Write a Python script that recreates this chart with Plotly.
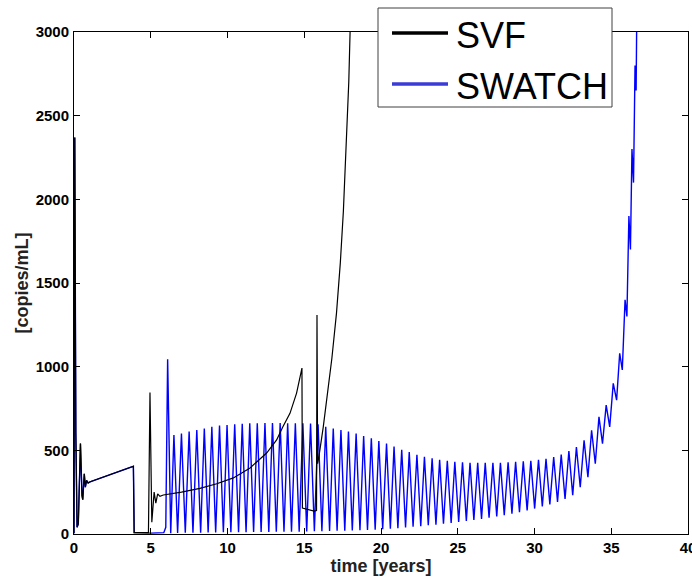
import plotly.graph_objects as go

# ---- shared primary-infection segment (both strategies identical) ----
init_t = [0.0, 0.05, 0.12, 0.20, 0.28, 0.42, 0.52, 0.57, 0.67, 0.74, 0.82, 0.92, 1.05, 3.87, 3.92]
init_v = [5, 2370, 600, 40, 60, 540, 230, 205, 360, 280, 320, 305, 312, 405, 8]

# ---- SVF (black) after 3.92 years ----
svf_t = [4.85, 4.95, 5.07, 5.22, 5.33, 5.45, 5.60, 5.82, 7.0, 8.2, 9.3, 10.38, 11.47, 12.55,
         13.2, 13.6, 14.07, 14.5, 14.85, 14.88, 15.64, 15.80, 15.83, 15.87, 15.95, 16.24,
         16.5, 16.8, 17.1, 17.35, 17.55, 17.75, 17.9, 18.0, 18.1]
svf_v = [8, 845, 70, 250, 185, 240, 225, 233, 250, 273, 300, 335, 395, 484,
         562, 640, 721, 842, 992, 155, 137, 140, 1309, 420, 460, 640,
         820, 1050, 1320, 1620, 1930, 2330, 2700, 3050, 3400]

# ---- SWATCH (blue) after 3.92 years ----
sw_pre_t = [5.0, 5.85, 5.98]
sw_pre_v = [5, 8, 40]

sw_peak_t = [6.10, 6.51, 7.00, 7.50, 8.00, 8.49, 8.98, 9.48, 9.97, 10.47, 10.96, 11.45, 11.94,
             12.44, 12.93, 13.43, 13.92, 14.42, 14.91, 15.41, 15.90, 16.40, 16.89, 17.39, 17.88,
             18.38, 18.87, 19.37, 19.86, 20.36, 20.85, 21.35, 21.84, 22.34, 22.83, 23.33, 23.82,
             24.32, 24.81, 25.31, 25.80, 26.30, 26.79, 27.29, 27.78, 28.28, 28.77, 29.27, 29.76,
             30.26, 30.75, 31.25, 31.74, 32.24, 32.73, 33.23, 33.72, 34.20, 34.67, 35.13, 35.55,
             35.90, 36.15, 36.35, 36.55, 36.70]
sw_peak_v = [1045, 592, 600, 612, 622, 631, 641, 648, 652, 656, 659, 661, 662,
             663, 663, 663, 662, 662, 661, 660, 655, 641, 631, 622, 612,
             600, 586, 572, 556, 540, 522, 504, 490, 474, 462, 452, 443,
             437, 432, 428, 426, 425, 425, 425, 426, 428, 431, 434, 438,
             444, 450, 460, 475, 495, 520, 560, 620, 700, 770, 900, 1080,
             1400, 1900, 2300, 2800, 3500]

sw_trough_t = [6.30, 6.75, 7.25, 7.75, 8.25, 8.74, 9.23, 9.73, 10.22, 10.72, 11.21, 11.70, 12.19,
               12.69, 13.18, 13.68, 14.17, 14.67, 15.16, 15.66, 16.15, 16.65, 17.14, 17.64, 18.13,
               18.63, 19.12, 19.62, 20.11, 20.61, 21.10, 21.60, 22.09, 22.59, 23.08, 23.58, 24.07,
               24.57, 25.06, 25.56, 26.05, 26.55, 27.04, 27.54, 28.03, 28.53, 29.02, 29.52, 30.01,
               30.51, 31.00, 31.50, 31.99, 32.49, 32.98, 33.48, 33.96, 34.43, 34.90, 35.35, 35.72,
               36.02, 36.25, 36.45, 36.62]
sw_trough_v = [5, 6, 7, 8, 8, 9, 9, 10, 10, 11, 11, 12, 12,
               12, 13, 13, 14, 14, 15, 16, 17, 18, 19, 20, 21,
               22, 24, 26, 28, 31, 35, 39, 43, 47, 52, 56, 61,
               66, 72, 78, 84, 90, 97, 105, 113, 122, 131, 141, 152,
               164, 177, 192, 210, 232, 280, 340, 420, 540, 640, 800, 980,
               1300, 1700, 2100, 2650]

x_ticks = [0, 5, 10, 15, 20, 25, 30, 35, 40]
y_ticks = [0, 500, 1000, 1500, 2000, 2500, 3000]

legend_names = ["SVF", "SWATCH"]
legend_colors = ["#000000", "#3b3bd6"]

# assemble series
svf_x = init_t + svf_t
svf_y = init_v + svf_v

sw_x = init_t + sw_pre_t
sw_y = init_v + sw_pre_v
for i in range(len(sw_peak_t)):
    sw_x.append(sw_peak_t[i]); sw_y.append(sw_peak_v[i])
    if i < len(sw_trough_t):
        sw_x.append(sw_trough_t[i]); sw_y.append(sw_trough_v[i])

BLUE = "#0000ff"
fig = go.Figure()
fig.add_trace(go.Scatter(x=sw_x, y=sw_y, mode="lines", line=dict(color=BLUE, width=1.4),
                         name="SWATCH", showlegend=False, hoverinfo="skip"))
fig.add_trace(go.Scatter(x=svf_x, y=svf_y, mode="lines", line=dict(color="#000000", width=1.2),
                         name="SVF", showlegend=False, hoverinfo="skip"))

# ---- hand-drawn legend box (paper coordinates) ----
PL, PR, PT, PB = 74, 688, 32, 534
def px_x(px):
    return (px - PL) / (PR - PL)
def px_y(py):
    return (PB - py) / (PB - PT)

shapes = [dict(type="rect", xref="paper", yref="paper",
               x0=px_x(378), x1=px_x(612), y0=px_y(107), y1=px_y(8),
               fillcolor="white", line=dict(color="#404040", width=1), layer="above")]
annotations = []
row_y = [33, 84]
for name, col, ry in zip(legend_names, legend_colors, row_y):
    shapes.append(dict(type="line", xref="paper", yref="paper",
                       x0=px_x(392), x1=px_x(448), y0=px_y(ry), y1=px_y(ry),
                       line=dict(color=col, width=3.5), layer="above"))
    annotations.append(dict(xref="paper", yref="paper", x=px_x(454), y=px_y(ry + 2),
                            xanchor="left", yanchor="middle", showarrow=False, text=name,
                            font=dict(family="Liberation Sans, Arial", size=36, color="#000000")))

tickfont = dict(family="Liberation Sans, Arial", size=15, color="#000000", weight="bold")
titlefont = dict(family="Liberation Sans, Arial", size=18, color="#222222", weight="bold")

fig.update_layout(
    width=692, height=585,
    margin=dict(l=74, r=4, t=32, b=51),
    paper_bgcolor="white", plot_bgcolor="white",
    showlegend=False,
    shapes=shapes, annotations=annotations,
)
fig.update_xaxes(range=[0, 40], tickvals=x_ticks, ticks="inside", ticklen=6, tickwidth=1,
                 tickcolor="#000000", showline=True, linecolor="#000000", linewidth=1,
                 mirror="ticks", showgrid=False, zeroline=False, tickfont=tickfont,
                 ticklabeloverflow="allow", automargin=False,
                 title=dict(text="time [years]", font=titlefont, standoff=3))
fig.update_yaxes(range=[0, 3000], tickvals=y_ticks, ticks="inside", ticklen=6, tickwidth=1,
                 tickcolor="#000000", showline=True, linecolor="#000000", linewidth=1,
                 mirror="ticks", showgrid=False, zeroline=False, tickfont=tickfont,
                 ticklabelstandoff=1, automargin=False,
                 title=dict(text="[copies/mL]", font=titlefont, standoff=2))

fig.write_html("out.html")
